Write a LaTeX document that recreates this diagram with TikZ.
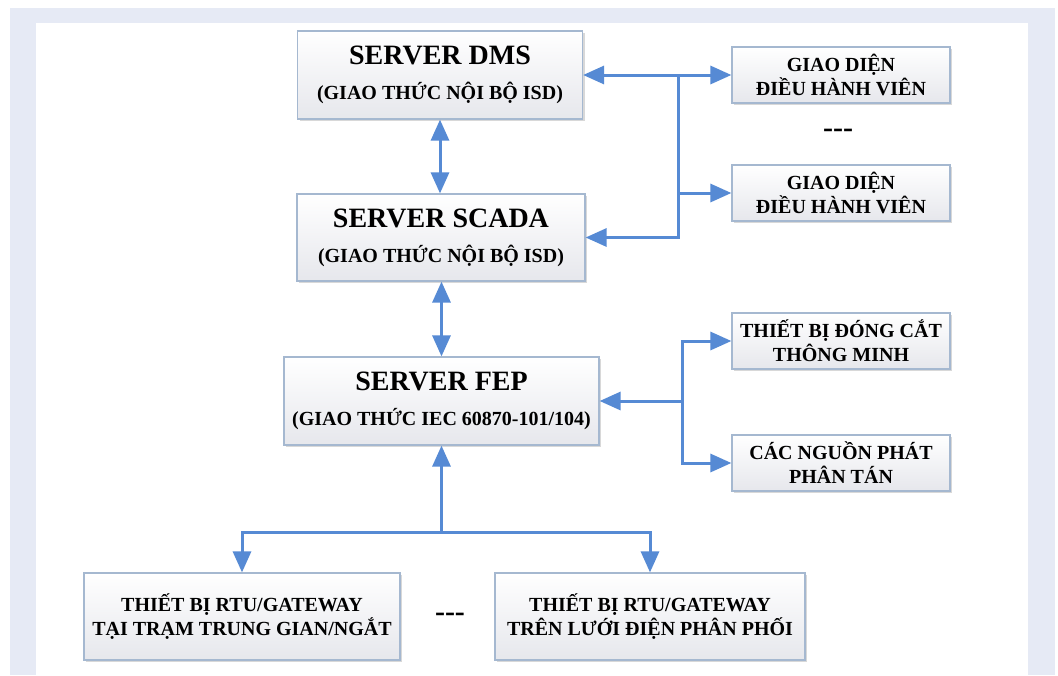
\documentclass[tikz,border=0pt]{standalone}
\usepackage{fontspec}
\setmainfont{Liberation Serif}
\usetikzlibrary{arrows.meta,shadows,calc}

\definecolor{framebg}{RGB}{230,234,245}
\definecolor{linkblue}{RGB}{86,138,212}
\definecolor{boxline}{RGB}{165,184,208}
\definecolor{boxbot}{RGB}{230,231,236}

\newcommand{\titlef}{\fontsize{28}{32}\selectfont}
\newcommand{\subf}{\fontsize{20}{35}\selectfont}
\newcommand{\smallf}{\fontsize{20}{24}\selectfont}

\tikzset{
  panel/.style={draw=boxline, line width=1.2pt, top color=white, bottom color=boxbot,
    drop shadow={shadow xshift=2pt, shadow yshift=-2pt, opacity=0.25, fill=black!60},
    inner sep=0pt, align=center, font=\bfseries},
  server/.style={panel, font=\bfseries\subf},
  unit/.style={panel, font=\bfseries\smallf, minimum width=218pt, minimum height=56pt},
  rtu/.style={panel, font=\bfseries\smallf, minimum height=87pt},
  dots/.style={font=\bfseries\fontsize{30}{32}\selectfont, inner sep=0pt},
  tip/.tip={Triangle[length=21pt,width=18pt]},
  wire/.style={draw=linkblue, line width=3pt},
  bus/.style={wire, line cap=rect},
  oneway/.style={wire, -tip},
  twoway/.style={wire, tip-tip},
}

\begin{document}
\begin{tikzpicture}[x=1pt,y=-1pt]
  % page and frame
  \fill[white] (0,0) rectangle (1058,675);
  \fill[framebg] (10,8) rectangle (1055,675);
  \fill[white] (36,23) rectangle (1028,675);
  \useasboundingbox (0,0) rectangle (1058,675);

  % servers
  \node[server, minimum width=285pt, minimum height=88pt] (dms) at (440,75)
    {{\titlef SERVER DMS}\\(GIAO THỨC NỘI BỘ ISD)};
  \node[server, minimum width=288pt, minimum height=87pt] (scada) at (441,237.5)
    {{\titlef SERVER SCADA}\\(GIAO THỨC NỘI BỘ ISD)};
  \node[server, minimum width=315pt, minimum height=88pt] (fep) at (441.5,401)
    {{\titlef SERVER FEP}\\(GIAO THỨC IEC 60870-101/104)};

  % operator consoles
  \node[unit] (gd1) at (841,75) {GIAO DIỆN\\ĐIỀU HÀNH VIÊN};
  \node[dots] (gdots) at (838,133) {\mbox{-}\mbox{-}\mbox{-}};
  \node[unit] (gd2) at (841,193) {GIAO DIỆN\\ĐIỀU HÀNH VIÊN};

  % field devices on the FEP side
  \node[unit] (sw) at (841,341) {THIẾT BỊ ĐÓNG CẮT\\THÔNG MINH};
  \node[unit] (dg) at (841,463) {CÁC NGUỒN PHÁT\\PHÂN TÁN};

  % RTU / gateway devices
  \node[rtu, minimum width=316pt] (rtu1) at (242,616.5)
    {THIẾT BỊ RTU/GATEWAY\\TẠI TRẠM TRUNG GIAN/NGẮT};
  \node[dots] (rdots) at (450,617) {\mbox{-}\mbox{-}\mbox{-}};
  \node[rtu, minimum width=310pt] (rtu2) at (650,616.5)
    {THIẾT BỊ RTU/GATEWAY\\TRÊN LƯỚI ĐIỆN PHÂN PHỐI};

  % junction points
  \coordinate (rb) at (678,0);
  \coordinate (fb) at (682,0);
  \coordinate (hb) at (0,532);

  % server chain
  \draw[twoway] (dms.south) -- (dms.south |- scada.north);
  \draw[twoway] (fep.north |- scada.south) -- (fep.north);

  % console bus
  \draw[bus] (rb |- dms.east) -- (rb |- scada.east);
  \draw[oneway] (rb |- dms.east) -- (dms.east);
  \draw[oneway] (rb |- gd1.west) -- (gd1.west);
  \draw[oneway] (rb |- gd2.west) -- (gd2.west);
  \draw[oneway] (rb |- scada.east) -- (scada.east);

  % FEP field bus
  \draw[bus] (fb |- sw.west) -- (fb |- dg.west);
  \draw[oneway] (fb |- fep.east) -- (fep.east);
  \draw[oneway] (fb |- sw.west) -- (sw.west);
  \draw[oneway] (fb |- dg.west) -- (dg.west);

  % RTU bus
  \draw[bus] (rtu1.north |- hb) -- (rtu2.north |- hb);
  \draw[oneway] (fep.south |- hb) -- (fep.south);
  \draw[oneway] (rtu1.north |- hb) -- (rtu1.north);
  \draw[oneway] (rtu2.north |- hb) -- (rtu2.north);
\end{tikzpicture}
\end{document}
